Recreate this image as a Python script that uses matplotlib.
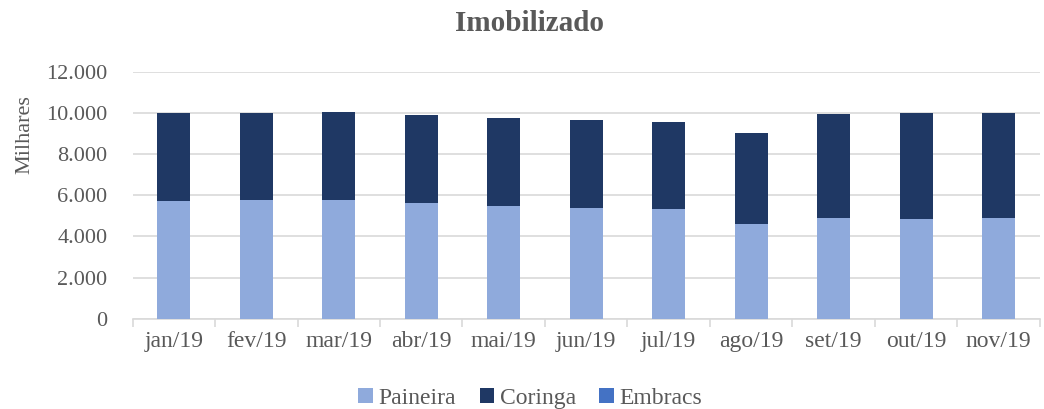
import numpy as np
from matplotlib import pyplot as plt
from matplotlib.ticker import FuncFormatter, FixedLocator

months = ['jan/19', 'fev/19', 'mar/19', 'abr/19', 'mai/19', 'jun/19',
          'jul/19', 'ago/19', 'set/19', 'out/19', 'nov/19']
paineira = [5730, 5775, 5775, 5645, 5480, 5385, 5335, 4590, 4880, 4865, 4880]
totals = [9990, 10010, 10040, 9890, 9750, 9640, 9575, 9055, 9950, 9980, 10015]
coringa = [t - p for t, p in zip(totals, paineira)]
embracs = [0] * len(months)

plt.rcParams['font.family'] = ['Liberation Serif', 'DejaVu Serif']
txt = '#595959'

fig = plt.figure(figsize=(10.44, 4.09), dpi=100)
ax = fig.add_axes([0.127, 0.221, 0.869, 0.603])

x = np.arange(len(months))
w = 0.4
ax.bar(x, paineira, w, color='#8FAADC', label='Paineira', zorder=3)
ax.bar(x, coringa, w, bottom=paineira, color='#1F3864', label='Coringa', zorder=3)
bottom2 = [p + c for p, c in zip(paineira, coringa)]
ax.bar(x, embracs, w, bottom=bottom2, color='#4472C4', label='Embracs', zorder=3)

ax.set_xlim(-0.5, len(months) - 0.5)
ax.set_ylim(0, 12000)
ax.set_yticks(range(0, 12001, 2000))
ax.yaxis.set_major_formatter(FuncFormatter(lambda v, p: f'{int(v):,}'.replace(',', '.')))
ax.grid(axis='y', color='#D9D9D9', linewidth=1.2, zorder=0)

ax.set_xticks(x)
ax.set_xticklabels(months)
ax.xaxis.set_minor_locator(FixedLocator(np.arange(-0.5, len(months), 1)))
ax.tick_params(axis='x', which='major', length=0, pad=9, labelsize=17, labelcolor=txt)
ax.tick_params(axis='x', which='minor', length=6, color='#D9D9D9', width=1.2)
ax.tick_params(axis='y', length=0, pad=18, labelsize=16, labelcolor=txt)

for s in ['top', 'right', 'left']:
    ax.spines[s].set_visible(False)
ax.spines['bottom'].set_color('#D9D9D9')
ax.spines['bottom'].set_linewidth(1.2)

fig.text(25 / 1044, 1 - 135 / 409, 'Milhares', rotation=90, fontsize=16,
         color=txt, ha='center', va='center')
fig.suptitle('Imobilizado', x=0.507, y=0.975, fontsize=21, fontweight='bold', color=txt)

fig.legend(loc='center', bbox_to_anchor=(0.508, 0.025), ncol=3, frameon=False,
           prop={'family': 'Liberation Serif', 'size': 17}, labelcolor=txt,
           handlelength=0.6, handleheight=0.6,
           handletextpad=0.25, columnspacing=1.0, borderpad=0)

fig.savefig('out.png', dpi=100)
